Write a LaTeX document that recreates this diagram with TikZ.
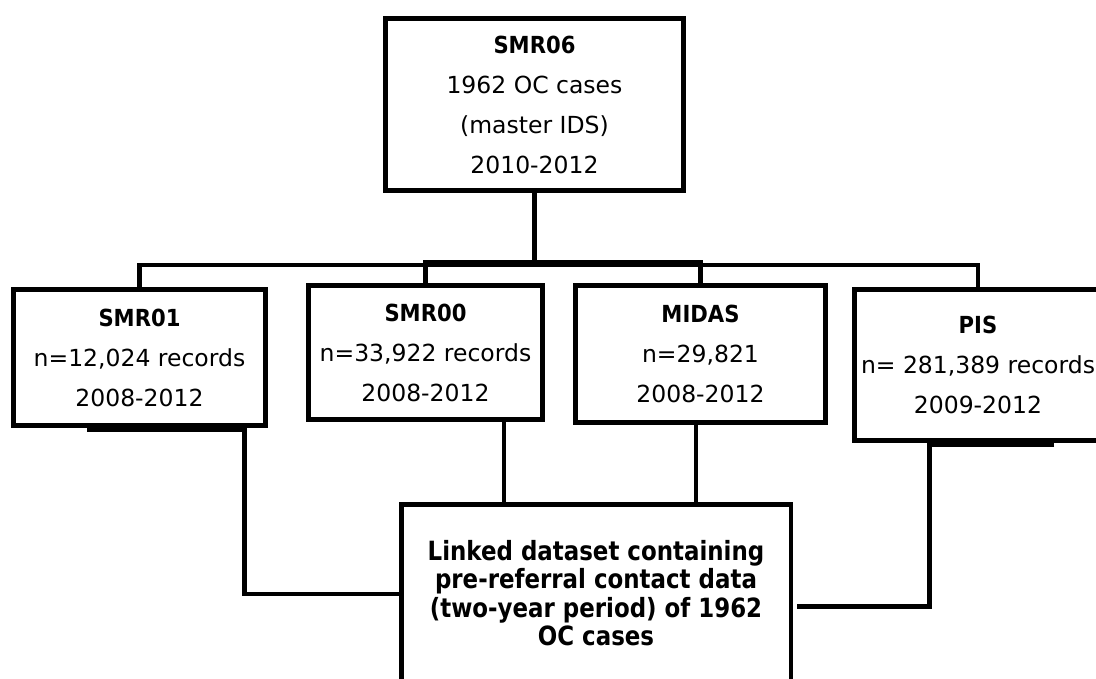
\documentclass[tikz,border=0pt]{standalone}
\usepackage{fontspec}
\setmainfont{DejaVu Sans}
\newfontfamily\bfnarrow{DejaVu Sans}[FakeStretch=0.9]
\newfontfamily\bfwide{DejaVu Sans}[FakeStretch=0.865]
\tikzset{
  box/.style={draw, line width=5pt, rectangle, align=center, inner sep=0pt,
    font=\fontsize{23.5}{40}\selectfont},
  conn/.style={line width=4.5pt}
}
\newcommand{\hd}[1]{{\bfnarrow\bfseries #1}}
\begin{document}
\begin{tikzpicture}[x=1pt,y=-1pt]
\clip (0,0) rectangle (1096,678);
\fill[white] (0,0) rectangle (1096,678);

\node[box, minimum width=298pt, minimum height=172pt] (smr06) at (534.5,104.5)
  {\hd{SMR06}\\1962 OC cases\\(master IDS)\\2010-2012};
\node[box, minimum width=252pt, minimum height=136pt] (smr01) at (139.5,357.5)
  {\hd{SMR01}\\n=12,024 records\\2008-2012};
\node[box, minimum width=234pt, minimum height=134pt] (smr00) at (425.5,352.5)
  {\hd{SMR00}\\n=33,922 records\\2008-2012};
\node[box, minimum width=250pt, minimum height=137pt] (midas) at (700.5,354)
  {\hd{MIDAS}\\n=29,821\\2008-2012};
\node[box, minimum width=247pt, minimum height=151pt] (pis) at (978,365)
  {\hd{PIS}\\n= 281,389 records\\2009-2012};
\node[box, line width=4.5pt, minimum width=389.5pt, minimum height=177.5pt,
  font=\bfwide\bfseries\fontsize{26.5}{28.5}\selectfont] (linked) at (596,593)
  {Linked dataset containing\\pre-referral contact data\\(two-year period) of 1962\\OC cases};

% top bars
\coordinate (hb) at (0,262);
\coordinate (lb) at (0,265);
\draw[conn] (smr06.south) -- (smr06.south |- hb);
\draw[conn] (smr00.north) -- (smr00.north |- hb) -- (midas.north |- hb) -- (midas.north);
\draw[conn] (smr01.north) -- (smr01.north |- lb) -- (pis.north |- lb) -- (pis.north);

% lower connectors
\coordinate (c00) at (504,0);
\coordinate (cmi) at (696,0);
\draw[conn] (c00 |- smr00.south) -- (c00 |- linked.north);
\draw[conn] (cmi |- midas.south) -- (cmi |- linked.north);

\coordinate (s1a) at (87,429.5);
\coordinate (s1b) at (244.5,429.5);
\coordinate (s1c) at (244.5,594);
\draw[conn] (s1a) -- (s1b) -- (s1c) -- (linked.west |- s1c);

\coordinate (p1a) at (1054,444.5);
\coordinate (p1b) at (929.5,444.5);
\coordinate (p1c) at (929.5,606.5);
\coordinate (p1d) at (797,606.5);
\draw[conn] (p1a) -- (p1b) -- (p1c) -- (p1d);
\end{tikzpicture}
\end{document}
